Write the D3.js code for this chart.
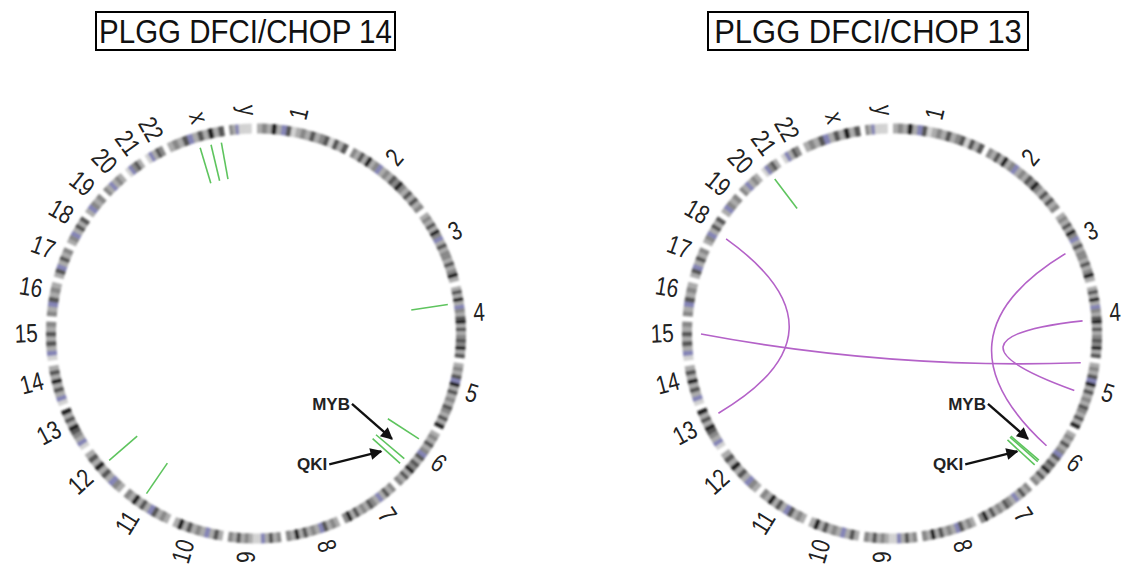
<!DOCTYPE html>
<html>
<head>
<meta charset="utf-8">
<script src="https://cdn.jsdelivr.net/npm/d3@7"></script>
<style>
  body { margin: 0; background: #fff; }
  svg { display: block; }
</style>
</head>
<body>
<div id="container"></div>
<script>
// chromosomes, clockwise from the top
let chromNames = ["1","2","3","4","5","6","7","8","9","10","11","12","13","14","15","16","17","18","19","20","21","22","x","y"];
let chromLengths = [249,243,198,191,181,171,159,146,141,136,135,134,115,107,103,90,81,78,59,63,48,51,155,59]; // Mb
// rough band shading, one char per equal piece (0 light .. 4 black, c centromere)
let chromBands = [
  "12141c3012131230313", "2131412c1213242131312", "1213142c13122131241", "13141c2134131232413",
  "1213c413121321314", "121312c313241312", "2131c1231213142", "1213c12131412",
  "2131c00121312", "131c1213141", "1213c131412", "12c1314131",
  "0c12341314", "0c1314131", "0c131312", "21c3121",
  "13c1312", "12c1313", "1c212", "21c121",
  "0c231", "0c132", "1213c131413", "21c0000"
];

let panelTitles = ["PLGG DFCI/CHOP 14", "PLGG DFCI/CHOP 13"];

// green marks: [chromosome, position Mb]
let marks14 = [["x",81],["x",113],["x",143],["4",44],["6",40],["6",110],["6",128],["12",82],["11",90]];
let marks13 = [["21",14],["6",116],["6",121],["6",134]];

// purple links: [chrA, posA, chrB, posB]
let links14 = [];
let links13 = [["18",38,"13",88],["15",71,"5",5],["4",90,"5",87],["3",102,"6",70]];

// annotated genes
let geneNames = ["MYB","QKI"];
let geneChroms = ["6","6"];
let genePositions = [87,140];

const W = 1121, H = 567;
const gapMb = 15.4;
const rIn = 200, rOut = 210, rLabel = 218;
const rLink = 191, rCtrl = 36;
const rMark0 = 157, rMark1 = 194;
const shade = {"0":"#d2d2d2","1":"#ababab","2":"#878787","3":"#575757","4":"#222222","c":"#8484b6"};

// genome offsets with gaps
let offsets = [];
let acc = 0;
chromLengths.forEach((len, i) => { offsets.push(acc); acc += len + gapMb; });
let totalMb = acc;

let angle = d3.scaleLinear().domain([0, totalMb]).range([0.3, 360.3]); // degrees, clockwise from top
function chromAngle(chr, pos) {
  let i = chromNames.indexOf(chr);
  return angle(offsets[i] + pos);
}
function pt(deg, r) {
  let a = deg * Math.PI / 180;
  return [r * Math.sin(a), -r * Math.cos(a)];
}

let svg = d3.select('#container')
  .append('svg')
  .attr('width', W)
  .attr('height', H);

let defs = svg.append('defs');
defs.append('filter').attr('id', 'soft')
  .append('feGaussianBlur').attr('stdDeviation', 0.9);
defs.append('marker')
  .attr('id', 'head')
  .attr('viewBox', '0 0 10 10')
  .attr('refX', 9).attr('refY', 5)
  .attr('markerWidth', 6).attr('markerHeight', 5)
  .attr('markerUnits', 'strokeWidth')
  .attr('orient', 'auto')
  .append('path').attr('d', 'M0,0 L10,5 L0,10 z').attr('fill', '#111');

// titles
let titleBoxes = [{x: 96, w: 299, size: 29.5}, {x: 708, w: 320, size: 31}];
panelTitles.forEach((t, i) => {
  let b = titleBoxes[i];
  svg.append('rect')
    .attr('x', b.x).attr('y', 12).attr('width', b.w).attr('height', 38)
    .attr('fill', 'none').attr('stroke', '#000').attr('stroke-width', 2);
  svg.append('text')
    .attr('transform', `translate(${b.x + b.w / 2},43) scale(1,1.1)`)
    .attr('text-anchor', 'middle')
    .attr('font-family', 'Liberation Sans, Arial, sans-serif')
    .attr('font-size', b.size)
    .attr('fill', '#111')
    .text(t);
});

function drawPanel(cx, cy, marks, links) {
  let g = svg.append('g').attr('transform', `translate(${cx},${cy})`);

  // ideogram ring
  let arc = d3.arc().innerRadius(rIn).outerRadius(rOut);
  let ring = g.append('g').attr('filter', 'url(#soft)');
  chromNames.forEach((chr, i) => {
    let bands = chromBands[i].split('');
    let step = chromLengths[i] / bands.length;
    ring.selectAll(null)
      .data(bands)
      .enter()
      .append('path')
      .attr('d', (d, j) => arc({
        startAngle: chromAngle(chr, j * step) * Math.PI / 180,
        endAngle: chromAngle(chr, (j + 1) * step) * Math.PI / 180 + 0.002
      }))
      .attr('fill', d => shade[d]);
  });

  // chromosome labels, radial
  g.selectAll('text.chr')
    .data(chromNames)
    .enter()
    .append('text')
    .attr('class', 'chr')
    .attr('font-family', 'Liberation Sans, Arial, sans-serif')
    .attr('font-size', 26)
    .attr('fill', '#222')
    .attr('text-anchor', (d, i) => {
      let m = chromAngle(d, chromLengths[i] / 2);
      return m < 180 ? 'start' : 'end';
    })
    .attr('transform', (d, i) => {
      let m = chromAngle(d, chromLengths[i] / 2);
      let flip = m < 180 ? '' : ' rotate(180)';
      return `rotate(${m - 90}) translate(${rLabel},0)${flip} scale(0.8,1)`;
    })
    .text(d => d);

  // green marks
  g.selectAll('line.mark')
    .data(marks)
    .enter()
    .append('line')
    .attr('class', 'mark')
    .attr('x1', d => pt(chromAngle(d[0], d[1]), rMark0)[0])
    .attr('y1', d => pt(chromAngle(d[0], d[1]), rMark0)[1])
    .attr('x2', d => pt(chromAngle(d[0], d[1]), rMark1)[0])
    .attr('y2', d => pt(chromAngle(d[0], d[1]), rMark1)[1])
    .attr('stroke', '#5ec45e')
    .attr('stroke-width', 1.6);

  // purple links, bezier through a point near the center
  g.selectAll('path.link')
    .data(links)
    .enter()
    .append('path')
    .attr('class', 'link')
    .attr('d', d => {
      let a1 = chromAngle(d[0], d[1]);
      let a2 = chromAngle(d[2], d[3]);
      let diff = ((a2 - a1 + 540) % 360) - 180;
      let p0 = pt(a1, rLink), p2 = pt(a2, rLink), c = pt(a1 + diff / 2, rCtrl);
      let p = d3.path();
      p.moveTo(p0[0], p0[1]);
      p.quadraticCurveTo(c[0], c[1], p2[0], p2[1]);
      return p.toString();
    })
    .attr('fill', 'none')
    .attr('stroke', '#b462c8')
    .attr('stroke-width', 1.6);

  // gene arrows
  let tails = [[-40, -35], [-52, 13]];
  geneNames.forEach((name, i) => {
    let tip = pt(chromAngle(geneChroms[i], genePositions[i]), 172);
    let tail = [tip[0] + tails[i][0], tip[1] + tails[i][1]];
    g.append('line')
      .attr('x1', tail[0]).attr('y1', tail[1])
      .attr('x2', tip[0]).attr('y2', tip[1])
      .attr('stroke', '#111').attr('stroke-width', 2.4)
      .attr('marker-end', 'url(#head)');
    g.append('text')
      .attr('x', tail[0] - 2).attr('y', tail[1] + 6)
      .attr('text-anchor', 'end')
      .attr('font-family', 'Liberation Sans, Arial, sans-serif')
      .attr('font-weight', 'bold')
      .attr('font-size', 17)
      .attr('fill', '#222')
      .text(name);
  });
}

drawPanel(256, 333.5, marks14, links14);
drawPanel(892, 333.5, marks13, links13);
</script>
</body>
</html>
